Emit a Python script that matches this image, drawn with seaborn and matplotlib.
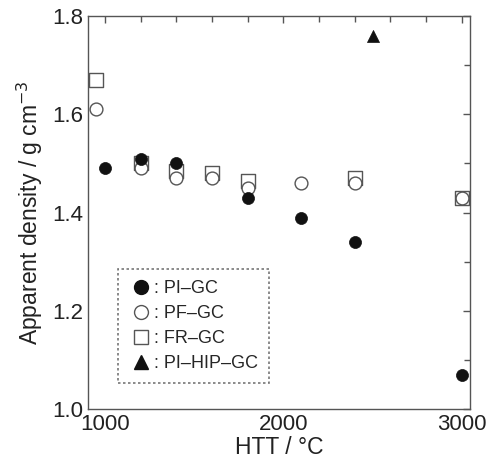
import matplotlib
matplotlib.use("Agg")
import matplotlib.pyplot as plt
import seaborn as sns
import pandas as pd
from matplotlib.ticker import MultipleLocator
from matplotlib.lines import Line2D

sns.set_theme(style="white")
plt.rcParams['font.family'] = ['Liberation Sans', 'DejaVu Sans']

pi_x = [1000, 1200, 1400, 1800, 2100, 2400, 3000]
pi_y = [1.49, 1.51, 1.50, 1.43, 1.39, 1.34, 1.07]
pf_x = [950, 1200, 1400, 1600, 1800, 2100, 2400, 3000]
pf_y = [1.61, 1.49, 1.47, 1.47, 1.45, 1.46, 1.46, 1.43]
fr_x = [950, 1200, 1400, 1600, 1800, 2400, 3000]
fr_y = [1.67, 1.50, 1.485, 1.48, 1.465, 1.47, 1.43]
hip_x = [2500]
hip_y = [1.76]
labels = [": PI\u2013GC", ": PF\u2013GC", ": FR\u2013GC", ": PI\u2013HIP\u2013GC"]

fig = plt.figure(figsize=(4.88, 4.73), dpi=100)
ax = fig.add_axes([0.180, 0.135, 0.783, 0.831])

gray = "#555555"
sns.scatterplot(x=fr_x, y=fr_y, ax=ax, marker="s", s=95, facecolor="white",
                edgecolor=gray, linewidth=1.0, zorder=3)
sns.scatterplot(x=pf_x, y=pf_y, ax=ax, marker="o", s=85, facecolor="white",
                edgecolor=gray, linewidth=1.0, zorder=4)
sns.scatterplot(x=pi_x, y=pi_y, ax=ax, marker="o", s=75, color="#111111",
                edgecolor="#111111", linewidth=0.5, zorder=5)
sns.scatterplot(x=hip_x, y=hip_y, ax=ax, marker="^", s=75, color="#111111",
                edgecolor="#111111", linewidth=0.5, zorder=5)

ax.set_xlim(905, 3045)
ax.set_ylim(1.0, 1.8)
ax.xaxis.set_major_locator(MultipleLocator(1000))
ax.xaxis.set_minor_locator(MultipleLocator(200))
ax.yaxis.set_major_locator(MultipleLocator(0.2))
ax.yaxis.set_minor_locator(MultipleLocator(0.1))
ax.yaxis.set_major_formatter(matplotlib.ticker.FormatStrFormatter('%.1f'))
ax.tick_params(which='both', direction='in', top=True, right=True, color=gray,
               labelsize=16, labelcolor='#222222')
ax.tick_params(which='major', length=5, width=1)
ax.tick_params(which='minor', length=4, width=1)
for sp in ax.spines.values():
    sp.set_color(gray)
    sp.set_linewidth(1.0)

ax.set_xlabel("HTT / \u00b0C", fontsize=16.5, color='#222222', labelpad=1)
ax.set_ylabel("Apparent density / g cm$^{-3}$", fontsize=16.5, color='#222222', labelpad=5)

handles = [
    Line2D([], [], marker='o', linestyle='none', markersize=10, markerfacecolor='#111111', markeredgecolor='#111111'),
    Line2D([], [], marker='o', linestyle='none', markersize=10, markerfacecolor='white', markeredgecolor=gray),
    Line2D([], [], marker='s', linestyle='none', markersize=10, markerfacecolor='white', markeredgecolor=gray),
    Line2D([], [], marker='^', linestyle='none', markersize=10, markerfacecolor='#111111', markeredgecolor='#111111'),
]
leg = ax.legend(handles, labels, loc='lower left', bbox_to_anchor=(0.079, 0.066),
                borderaxespad=0.0,
                frameon=True, fancybox=False, fontsize=13, handletextpad=0.0,
                handlelength=1.4, labelspacing=0.45, borderpad=0.6)
fr = leg.get_frame()
fr.set_edgecolor(gray)
fr.set_linestyle((0, (1.5, 1.5)))
fr.set_linewidth(1.2)

fig.savefig("out.png", dpi=100)
